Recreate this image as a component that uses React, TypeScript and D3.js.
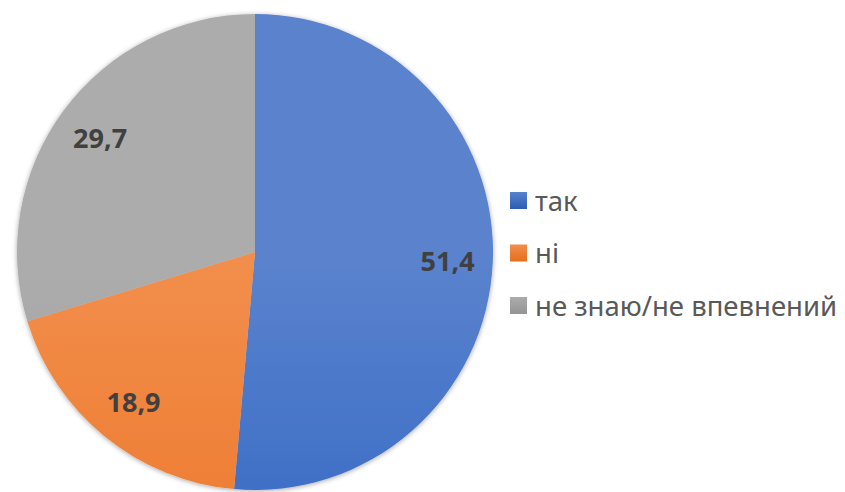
import React from "react";
import * as d3 from "d3";

const categories = ["так", "ні", "не знаю/не впевнений"];
const values = [51.4, 18.9, 29.7];
const labels = ["51,4", "18,9", "29,7"];
const topColors = ["#5a82cd", "#f28e4b", "#acacac"];
const midColors = ["#3e6fc6", "#ee7e35", "#a1a1a1"];
const bottomColors = ["#2b5db5", "#e56e1b", "#949494"];

const W = 845;
const H = 492;
const cx = 255;
const cy = 252;
const R = 238;

export default function App() {
  const pie = d3.pie<number>().sort(null).value((d) => d)(values);
  const arc = d3.arc<d3.PieArcDatum<number>>().innerRadius(0).outerRadius(R);
  const labelArc = d3
    .arc<d3.PieArcDatum<number>>()
    .innerRadius(R * 0.81)
    .outerRadius(R * 0.81);
  const legendY = d3.scalePoint<string>().domain(categories).range([200, 305]);

  return (
    <svg
      width={W}
      height={H}
      style={{ position: "absolute", left: 0, top: 0 }}
      fontFamily="'Noto Sans', 'Open Sans', sans-serif"
    >
      <defs>
        {categories.map((c, i) => (
          <linearGradient
            key={c}
            id={`g${i}`}
            gradientUnits="userSpaceOnUse"
            x1={0}
            y1={cy - R}
            x2={0}
            y2={cy + R}
          >
            <stop offset="0%" stopColor={topColors[i]} />
            <stop offset="50%" stopColor={midColors[i]} />
            <stop offset="100%" stopColor={bottomColors[i]} />
          </linearGradient>
        ))}
        {categories.map((c, i) => (
          <linearGradient key={c + "l"} id={`lg${i}`} x1="0" y1="0" x2="0" y2="1">
            <stop offset="0%" stopColor={topColors[i]} />
            <stop offset="100%" stopColor={bottomColors[i]} />
          </linearGradient>
        ))}
        <filter id="sh" x="-10%" y="-10%" width="120%" height="120%">
          <feDropShadow dx="0" dy="1" stdDeviation="2.5" floodColor="#000" floodOpacity="0.35" />
        </filter>
      </defs>
      <rect width={W} height={H} fill="#fff" />
      <g transform={`translate(${cx},${cy})`} filter="url(#sh)">
        {pie.map((p, i) => (
          <path key={i} d={arc(p) || ""} fill={`url(#g${i})`} />
        ))}
      </g>
      <g transform={`translate(${cx},${cy})`}>
        {pie.map((p, i) => {
          const [x, y] = labelArc.centroid(p);
          return (
            <text
              key={i}
              x={x}
              y={y}
              textAnchor="middle"
              dominantBaseline="central"
              fontSize={27}
              fontWeight="bold"
              fill="#404040"
            >
              {labels[i]}
            </text>
          );
        })}
      </g>
      {categories.map((c, i) => {
        const y = legendY(c) || 0;
        return (
          <g key={c}>
            <rect x={510} y={y - 8} width={17} height={17} fill={`url(#lg${i})`} />
            <text x={535} y={y} dominantBaseline="central" fontSize={27.5} fill="#595959">
              {c}
            </text>
          </g>
        );
      })}
    </svg>
  );
}
